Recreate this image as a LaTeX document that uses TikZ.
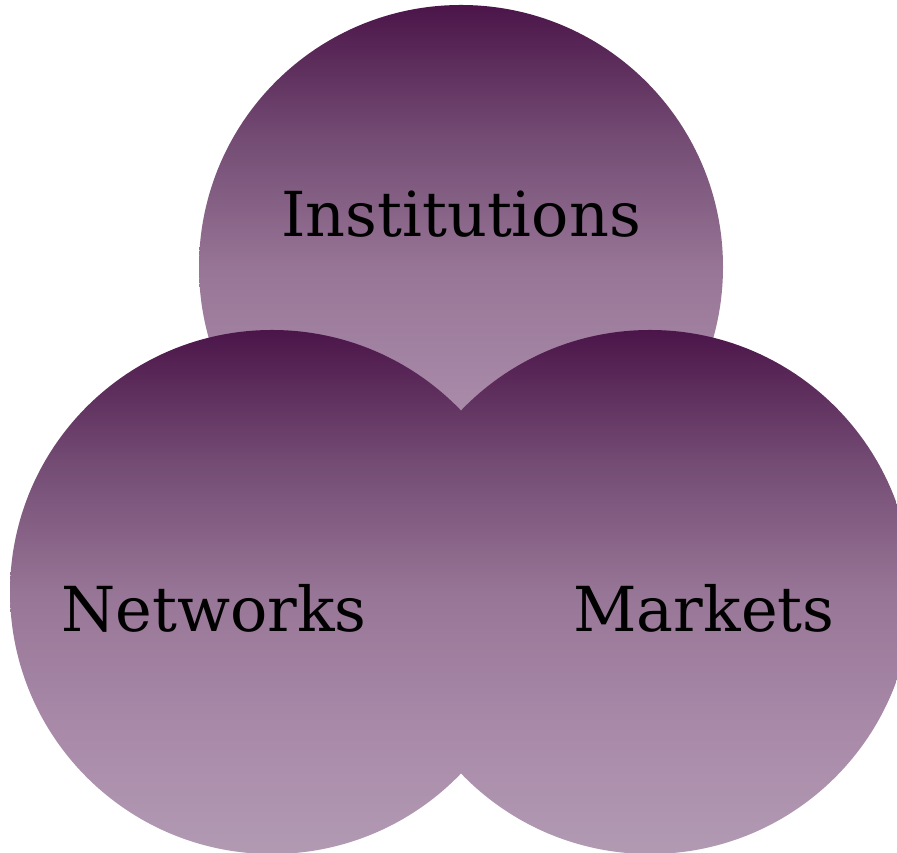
\documentclass[tikz,border=0pt]{standalone}
\usepackage{fontspec}
\setmainfont{DejaVu Serif}
\definecolor{ptop}{HTML}{4B1549}
\definecolor{pqa}{HTML}{734B73}
\definecolor{pmid}{HTML}{977596}
\definecolor{pqb}{HTML}{A889A8}
\definecolor{pbot}{HTML}{B29AB3}
\pgfdeclareverticalshading{purpfade}{100bp}{color(0bp)=(pbot); color(25bp)=(pbot); color(37.5bp)=(pqb); color(50bp)=(pmid); color(62.5bp)=(pqa); color(75bp)=(ptop); color(100bp)=(ptop)}
\tikzset{
  ring/.style={circle, inner sep=0pt, minimum size=524pt, shading=purpfade, draw=none},
  lbl/.style={inner sep=0pt, font=\fontsize{62}{68}\selectfont, text=black, anchor=base}
}
\begin{document}
\begin{tikzpicture}[x=1pt,y=1pt]
\useasboundingbox (0,0) rectangle (897,853);
\clip (0,0) rectangle (897,853);
\node[ring] (inst) at (461,586) {};
\node[ring] (netw) at (272,261) {};
\node[ring] (mark) at (650,261) {};
\node[lbl] (tinst) at (461,616) {Institutions};
\node[lbl] (tnetw) at (214,221) {Networks};
\node[lbl] (tmark) at (704,221) {Markets};
\end{tikzpicture}
\end{document}
